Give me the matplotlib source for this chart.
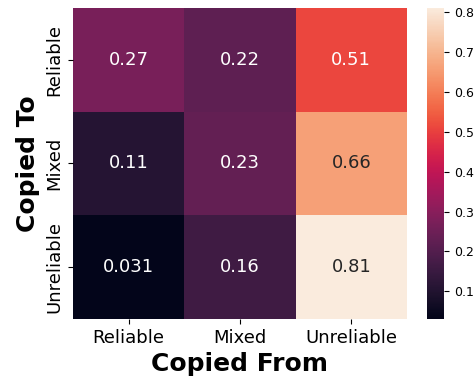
import numpy as np
import matplotlib
matplotlib.use('Agg')
import matplotlib.pyplot as plt
import seaborn as sns

# categories and values
labels = ['Reliable', 'Mixed', 'Unreliable']
row_reliable = [0.27, 0.22, 0.51]
row_mixed = [0.11, 0.23, 0.66]
row_unreliable = [0.031, 0.16, 0.81]
vals = np.array([row_reliable, row_mixed, row_unreliable])

fig = plt.figure(figsize=(4.76, 3.77), dpi=100)
ax = fig.add_axes([0.153, 0.154, 0.702, 0.825])
cax = fig.add_axes([0.897, 0.154, 0.036, 0.825])
sns.heatmap(vals, annot=True, fmt='.2g', cmap='rocket', ax=ax, cbar_ax=cax,
            xticklabels=labels, yticklabels=labels, annot_kws={'fontsize': 13})
ax.set_xlabel('Copied From', fontsize=18, fontweight='bold')
ax.set_ylabel('Copied To', fontsize=18, fontweight='bold')
ax.tick_params(labelsize=13)
plt.setp(ax.get_yticklabels(), rotation=90, va='center')
cax.tick_params(labelsize=9)
fig.savefig('out.png', dpi=100)
